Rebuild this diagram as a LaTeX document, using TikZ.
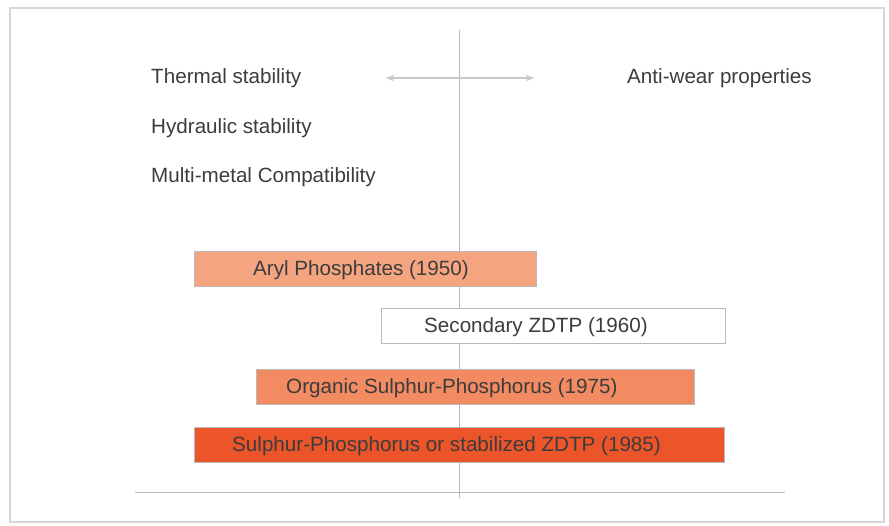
\documentclass[tikz,border=0pt]{standalone}
\usepackage{fontspec}
\setmainfont{Liberation Sans}
\usepackage{tikz}
\usetikzlibrary{arrows.meta, positioning}
\definecolor{frame}{RGB}{215,215,215}
\definecolor{axis}{RGB}{185,185,190}
\definecolor{arrowgrey}{RGB}{200,200,205}
\definecolor{ink}{RGB}{60,60,60}
\definecolor{arylfill}{RGB}{244,165,128}
\definecolor{organicfill}{RGB}{242,138,98}
\definecolor{sulphurfill}{RGB}{236,84,42}
\tikzset{
  txt/.style={anchor=west, inner sep=0pt, text=ink, font=\fontsize{17.6}{20}\selectfont},
  bar/.style={draw=axis, line width=0.5pt, anchor=north west, minimum height=10.35mm, inner sep=0pt},
  grey line/.style={draw=axis, line width=0.8pt}
}

\begin{document}
\begin{tikzpicture}[x=0.3mm, y=-0.3mm]
  \useasboundingbox (0,0) rectangle (889,526);
  \draw[frame, line width=1pt] (10,8) rectangle (884,522);
  % axes
  \coordinate (top) at (459,30);
  \coordinate (bottom) at (459,498);
  \coordinate (axl) at (135,492);
  \coordinate (axr) at (785,492);
  \draw[grey line] (top) -- (bottom);
  \draw[grey line] (axl) -- (axr);
  % properties
  \node[txt] (thermal) at (151,78) {Thermal stability};
  \node[txt] (hydraulic) at (151,128) {Hydraulic stability};
  \node[txt] (multi) at (151,177) {Multi-metal Compatibility};
  \node[txt] (antiwear) at (627,78) {Anti-wear properties};
  \coordinate (arrl) at (385,78);
  \coordinate (arrr) at (535,78);
  \draw[arrowgrey, line width=1.4pt, {Latex[length=2.5mm,width=2mm]}-{Latex[length=2.5mm,width=2mm]}] (arrl) -- (arrr);
  %
  \node[bar, fill=arylfill, minimum width=102.6mm] (aryl) at (194,251) {};
  \node[txt] at (253,270) {Aryl Phosphates (1950)};
  %
  \node[bar, fill=white, minimum width=103.2mm] (secondary) at (381,308) {};
  \node[txt] at (424,327) {Secondary ZDTP (1960)};
  %
  \node[bar, fill=organicfill, minimum width=131.4mm] (organic) at (256,369) {};
  \node[txt] at (286,388) {Organic Sulphur-Phosphorus (1975)};
  %
  \node[bar, fill=sulphurfill, minimum width=159mm] (sulphur) at (194,427) {};
  \node[txt] at (232,446) {Sulphur-Phosphorus or stabilized ZDTP (1985)};
\end{tikzpicture}
\end{document}
